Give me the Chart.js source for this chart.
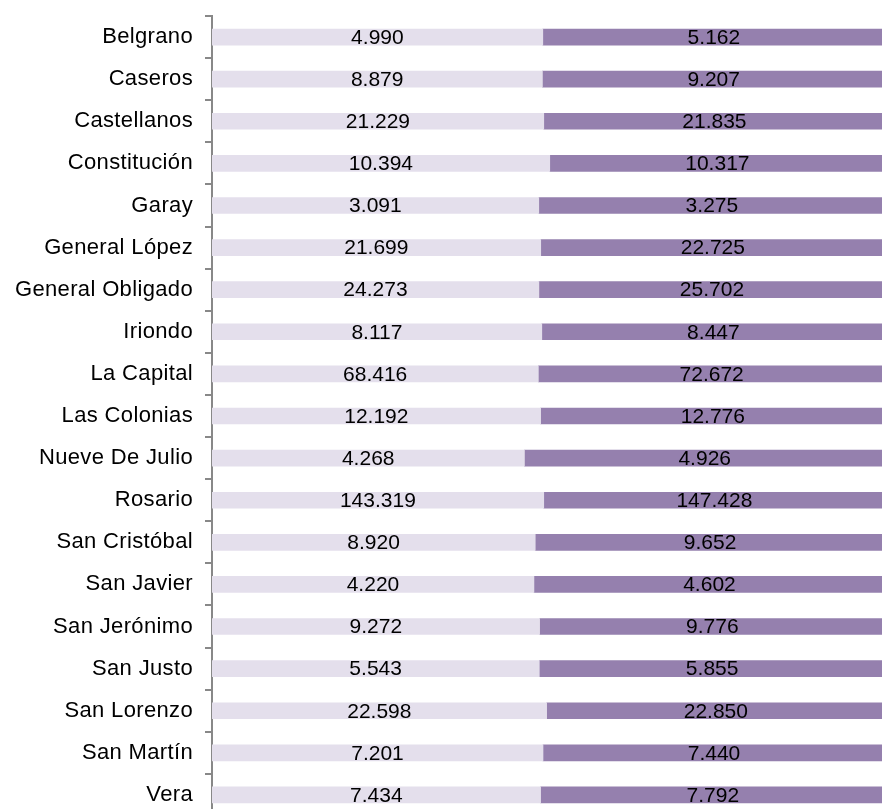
<!DOCTYPE html>
<html>
<head>
<meta charset="utf-8">
<script src="https://cdn.jsdelivr.net/npm/chart.js@4/dist/chart.umd.min.js"></script>
<style>
  html, body { margin: 0; padding: 0; background: #fff; }
  #wrap { width: 882px; height: 809px; overflow: hidden; position: relative; }
  canvas { display: block; }
</style>
</head>
<body>
<div id="wrap"><canvas id="chart" width="886" height="817"></canvas></div>
<script>
    const departamentos = [
      "Belgrano", "Caseros", "Castellanos", "Constitución", "Garay",
      "General López", "General Obligado", "Iriondo", "La Capital",
      "Las Colonias", "Nueve De Julio", "Rosario", "San Cristóbal",
      "San Javier", "San Jerónimo", "San Justo", "San Lorenzo",
      "San Martín", "Vera"
    ];

    const serieA = [4990, 8879, 21229, 10394, 3091, 21699, 24273, 8117, 68416,
      12192, 4268, 143319, 8920, 4220, 9272, 5543, 22598, 7201, 7434];

    const serieB = [5162, 9207, 21835, 10317, 3275, 22725, 25702, 8447, 72672,
      12776, 4926, 147428, 9652, 4602, 9776, 5855, 22850, 7440, 7792];

    const FONT = "'Liberation Sans', Arial, sans-serif";

    function fmt(v) {
      return String(v).replace(/\B(?=(\d{3})+(?!\d))/g, ".");
    }

    // 100% apilado: cada fila suma 1
    const totals = serieA.map((a, i) => a + serieB[i]);
    const shareA = serieA.map((a, i) => a / totals[i]);
    const shareB = serieB.map((b, i) => b / totals[i]);
    const rawValues = [serieA, serieB];

    const valueLabels = {
      id: "valueLabels",
      beforeDraw(chart) {
        // etiquetas de categoría un poco espaciadas, como en Excel
        chart.ctx.letterSpacing = "0.35px";
      },
      afterDatasetsDraw(chart) {
        const ctx = chart.ctx;
        ctx.save();
        ctx.letterSpacing = "0px";
        ctx.font = "21px " + FONT;
        ctx.fillStyle = "#000";
        ctx.textAlign = "center";
        ctx.textBaseline = "middle";
        chart.data.datasets.forEach((ds, d) => {
          chart.getDatasetMeta(d).data.forEach((bar, i) => {
            const cx = (bar.x + bar.base) / 2;
            ctx.fillText(fmt(rawValues[d][i]), cx, bar.y + 1);
          });
        });
        ctx.restore();
      }
    };

    new Chart(document.getElementById("chart"), {
      type: "bar",
      data: {
        labels: departamentos,
        datasets: [
          { data: shareA, backgroundColor: "#E4DFEC", barThickness: 16 },
          { data: shareB, backgroundColor: "#9580AE", barThickness: 16 }
        ]
      },
      options: {
        indexAxis: "y",
        responsive: false,
        devicePixelRatio: 1,
        animation: false,
        layout: { padding: { top: 16, right: 1, bottom: 1, left: 0 } },
        plugins: {
          legend: { display: false },
          tooltip: { enabled: false }
        },
        scales: {
          x: { stacked: true, min: 0, max: 1, display: false },
          y: {
            stacked: true,
            afterFit: s => {
              s.width = 212;
              s.paddingTop = 0;
              s.paddingBottom = 0;
            },
            grid: {
              offset: true,
              drawOnChartArea: false,
              drawTicks: true,
              tickLength: 7,
              color: "#888",
              lineWidth: 2
            },
            border: { color: "#888", width: 2 },
            ticks: {
              color: "#000",
              padding: 12,
              font: { family: FONT, size: 22 }
            }
          }
        }
      },
      plugins: [valueLabels]
    });
</script>
</body>
</html>
